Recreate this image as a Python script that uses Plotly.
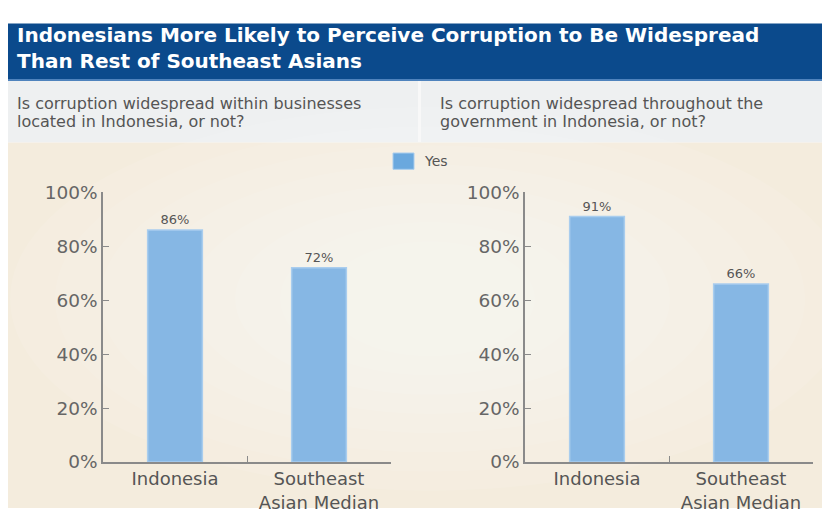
import plotly.graph_objects as go

categories = ["Indonesia", "Southeast<br>Asian Median"]
business_yes = [86, 72]
government_yes = [91, 66]
y_ticks = [0, 20, 40, 60, 80, 100]
y_tick_labels = ["0%", "20%", "40%", "60%", "80%", "100%"]

title_text = "Indonesians More Likely to Perceive Corruption to Be Widespread<br>Than Rest of Southeast Asians"
q_left = ["Is corruption widespread within businesses", "located in Indonesia, or not?"]
q_right = ["Is corruption widespread throughout the", "government in Indonesia, or not?"]

W, H = 822, 518
def px(x):
    return x / W
def py(y):
    return 1 - y / H

BAR = "#86b7e4"
BAR_LINE = "#a9cdee"
TXT = "#555555"
FONT = "DejaVu Sans"

fig = go.Figure()
for vals, xa, ya in [(business_yes, "x", "y"), (government_yes, "x2", "y2")]:
    fig.add_trace(go.Bar(
        x=categories, y=vals, xaxis=xa, yaxis=ya, width=0.38,
        marker=dict(color=BAR, line=dict(color=BAR_LINE, width=1.5)),
        text=[f"{v}%" for v in vals], textposition="outside",
        textfont=dict(family=FONT, size=13, color=TXT),
        cliponaxis=False, showlegend=False, name="Yes",
    ))

shapes = [
    dict(type="rect", xref="paper", yref="paper", x0=px(8), x1=1, y0=py(72), y1=py(13),
         fillcolor="#0b4a8c", line=dict(width=0), layer="below"),
    dict(type="rect", xref="paper", yref="paper", x0=px(8), x1=1, y0=py(73), y1=py(71),
         fillcolor="#4f83bd", line=dict(width=0), layer="below"),
    dict(type="rect", xref="paper", yref="paper", x0=px(8), x1=1, y0=py(137), y1=py(73),
         fillcolor="#eef0f1", line=dict(width=0), layer="below"),
    dict(type="rect", xref="paper", yref="paper", x0=px(418), x1=px(421), y0=py(137), y1=py(73),
         fillcolor="#f8f8f8", line=dict(width=0), layer="below"),
    dict(type="rect", xref="paper", yref="paper", x0=px(8), x1=1, y0=0, y1=py(137),
         fillcolor="#f4ecdd", line=dict(width=0), layer="below"),
]
cx, cy = 430, 300
for i in range(8):
    rx = 420 - i * 45
    ry = 200 - i * 20
    shapes.append(dict(type="circle", xref="paper", yref="paper",
                       x0=px(cx - rx), x1=px(cx + rx), y0=py(cy + ry), y1=py(cy - ry),
                       fillcolor="rgba(255,255,255,0.09)", line=dict(width=0), layer="below"))
shapes.append(dict(type="rect", xref="paper", yref="paper", x0=px(393), x1=px(414), y0=py(165), y1=py(148),
                   fillcolor="#6aa8de", line=dict(color="#a9cdee", width=1)))

annotations = [dict(text=title_text, x=px(15), y=py(39), xref="paper", yref="paper",
                    xanchor="left", yanchor="middle", align="left", showarrow=False,
                    font=dict(family=FONT, size=20, color="white", weight="bold"))]
for lines, xx in [(q_left, 15), (q_right, 438)]:
    for txt, yy in zip(lines, [96, 115]):
        annotations.append(dict(text=txt, x=px(xx), y=py(yy), xref="paper", yref="paper",
                                xanchor="left", yanchor="middle", showarrow=False,
                                font=dict(family=FONT, size=16, color=TXT)))
annotations.append(dict(text="Yes", x=px(422), y=py(156), xref="paper", yref="paper",
                        xanchor="left", yanchor="middle", showarrow=False,
                        font=dict(family=FONT, size=14, color=TXT)))

axis_common_x = dict(
    type="category", showline=True, linecolor="#8a8a8a", linewidth=1.5,
    ticks="inside", ticklen=6, tickcolor="#8a8a8a", tickson="boundaries",
    showgrid=False, zeroline=False, fixedrange=True, ticklabelstandoff=0,
    tickfont=dict(family=FONT, size=18, color=TXT),
)
axis_common_y = dict(
    range=[0, 100], tickvals=y_ticks, ticktext=y_tick_labels,
    showline=True, linecolor="#8a8a8a", linewidth=1.5,
    ticks="inside", ticklen=6, tickcolor="#8a8a8a",
    showgrid=False, zeroline=False, fixedrange=True,
    tickfont=dict(family=FONT, size=18.5, color="#666666"),
)

fig.update_layout(
    width=W, height=H, margin=dict(l=0, r=0, t=0, b=0),
    paper_bgcolor="white", plot_bgcolor="rgba(0,0,0,0)",
    bargap=0.62,
    xaxis=dict(domain=[px(103), px(391)], anchor="y", **axis_common_x),
    yaxis=dict(domain=[py(470), py(189)], anchor="x", **axis_common_y),
    xaxis2=dict(domain=[px(525), px(813)], anchor="y2", **axis_common_x),
    yaxis2=dict(domain=[py(470), py(189)], anchor="x2", **axis_common_y),
    shapes=shapes, annotations=annotations, showlegend=False,
)

fig.write_html("out.html")
